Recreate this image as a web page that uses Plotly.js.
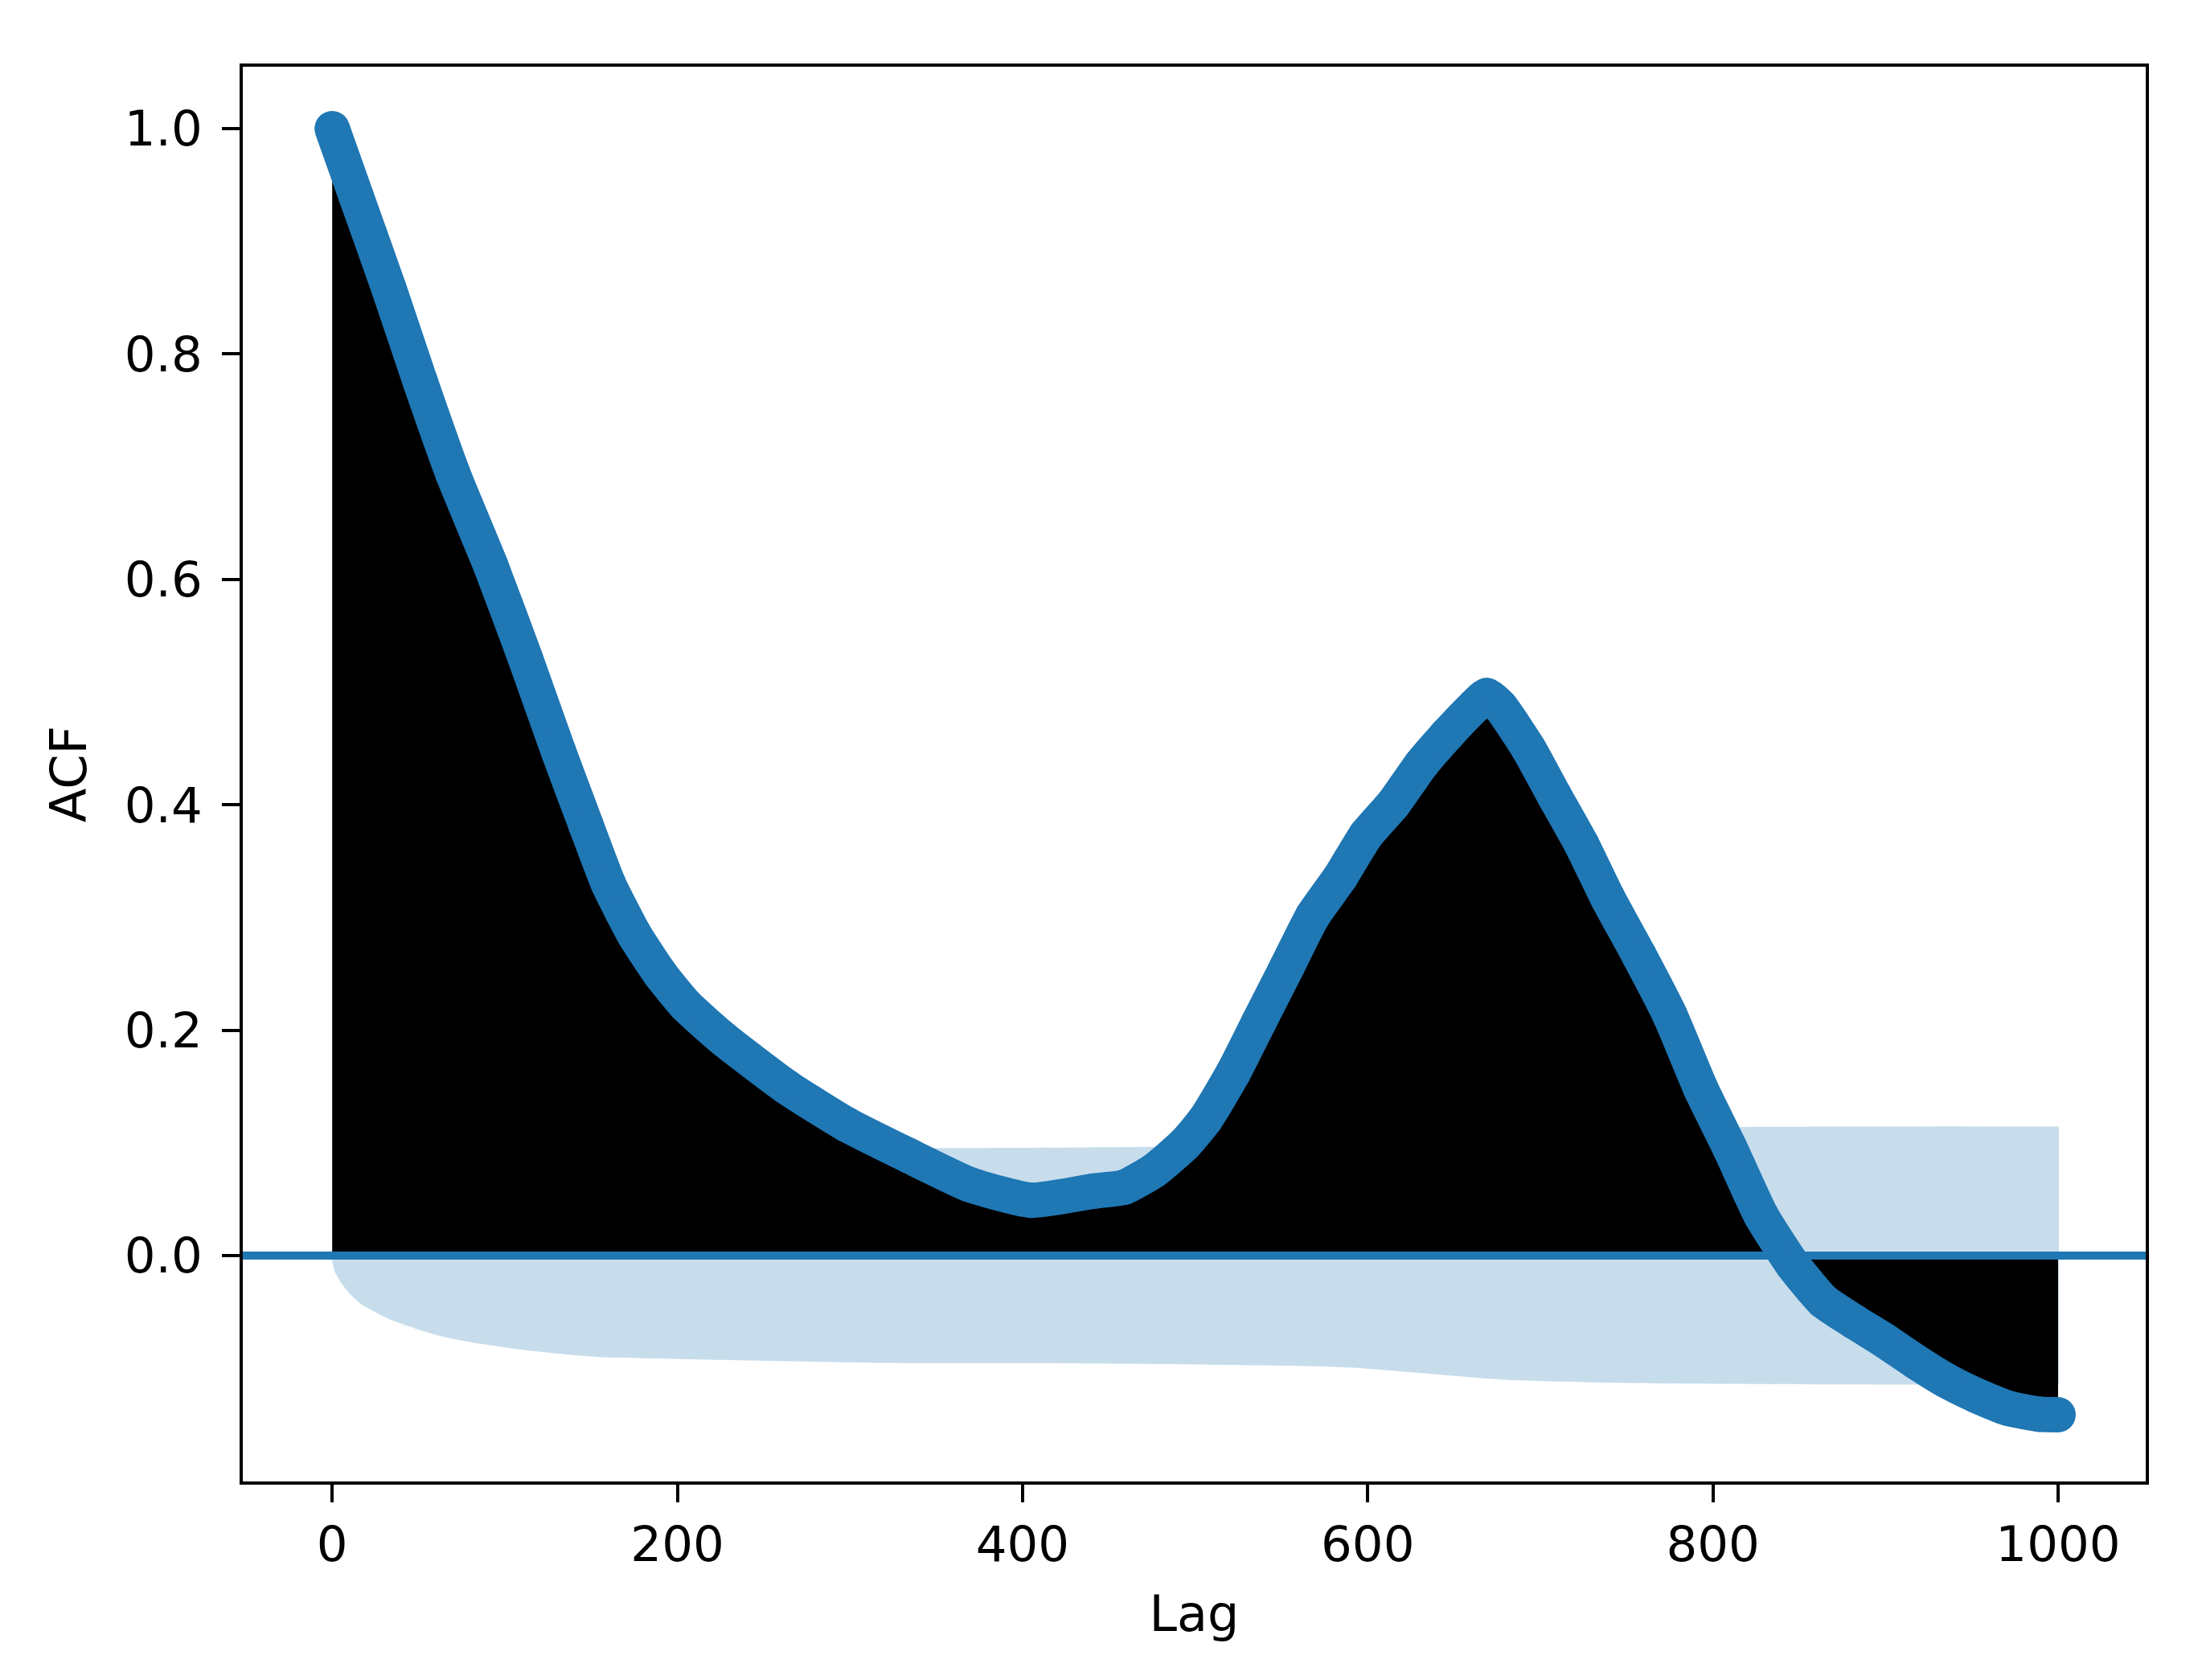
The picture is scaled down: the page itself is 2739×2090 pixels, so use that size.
<!DOCTYPE html>
<html><head><meta charset="utf-8">
<script src="https://cdn.plot.ly/plotly-3.0.1.min.js"></script>
<style>html,body{margin:0;padding:0;background:#fff;}</style>
</head><body><div id="chart" style="width:2739px;height:2090px;"></div>
<script>
// ACF values (lag, autocorrelation)
const lags = [0,14,33,51,70,92,112,131,147,160,175,190,205,227,263,298,334,369,405,441,459,476,494,506,522,537,553,568,584,599,615,631,646,662,669,677,693,708,724,739,757,775,793,810,828,846,864,882,900,917,935,953,971,989,1000];
const acf = [1.0,0.9395,0.8575,0.7756,0.6936,0.6117,0.5297,0.4478,0.3822,0.33,0.285,0.25,0.222,0.1918,0.1499,0.1163,0.0887,0.0632,0.049,0.0571,0.0607,0.0752,0.0989,0.121,0.1619,0.2074,0.2555,0.301,0.3356,0.3731,0.4011,0.4358,0.4623,0.4878,0.497,0.4868,0.4504,0.4084,0.3647,0.3175,0.267,0.2136,0.1481,0.0949,0.0354,-0.0076,-0.0404,-0.0588,-0.076,-0.0937,-0.1108,-0.1244,-0.1355,-0.1408,-0.1413];

// Confidence band half-width
const bandLags = [-0.5,1,2,5,9.5,17,33,48,64,79,110,141,157,320,400,587,677,766,899,1000.5];
const bandHalf = [0,0.012,0.016,0.024,0.0326,0.0433,0.0564,0.0647,0.0719,0.0766,0.0837,0.0885,0.0902,0.0953,0.0955,0.0992,0.110,0.1135,0.1145,0.1145];

// Axis ticks
const xTicks = [0,200,400,600,800,1000];
const yTicks = [0.0,0.2,0.4,0.6,0.8,1.0];
const yTickText = ['0.0','0.2','0.4','0.6','0.8','1.0'];

const C0 = '#1f77b4';
const bandFill = 'rgba(31,119,180,0.25)';

const traces = [
  {x: bandLags, y: bandHalf.map(v => -v), mode: 'lines', line: {width: 0, color: bandFill, shape: 'spline', smoothing: 0.6}, hoverinfo: 'skip'},
  {x: bandLags, y: bandHalf, mode: 'lines', line: {width: 0, color: bandFill, shape: 'spline', smoothing: 0.6}, fill: 'tonexty', fillcolor: bandFill, hoverinfo: 'skip'},
  {x: lags, y: acf, mode: 'lines', line: {width: 0, color: '#000', shape: 'spline', smoothing: 0.5}, fill: 'tozeroy', fillcolor: '#000000', hoverinfo: 'skip'},
  {x: lags, y: acf, mode: 'lines+markers', line: {width: 44, color: C0, shape: 'spline', smoothing: 0.5}, marker: {size: 44, color: C0, line: {width: 0}}}
];

const axisCommon = {
  showline: true, linewidth: 4, linecolor: '#000', mirror: true,
  ticks: 'outside', ticklen: 22, tickwidth: 4, tickcolor: '#000',
  showgrid: false, zeroline: false,
  tickfont: {family: 'DejaVu Sans', size: 61, color: '#000'}
};

const layout = {
  width: 2739, height: 2090,
  margin: {l: 302, r: 70, t: 83, b: 247, pad: 0},
  paper_bgcolor: '#fff', plot_bgcolor: '#fff',
  showlegend: false,
  font: {family: 'DejaVu Sans', size: 61, color: '#000'},
  xaxis: Object.assign({}, axisCommon, {
    range: [-51.8, 1050.8], tickvals: xTicks, ticktext: xTicks.map(String),
    title: {text: 'Lag', standoff: 31, font: {family: 'DejaVu Sans', size: 62, color: '#000'}}
  }),
  yaxis: Object.assign({}, axisCommon, {
    range: [-0.2005, 1.055], tickvals: yTicks, ticktext: yTickText,
    ticklabelstandoff: 12,
    title: {text: 'ACF', standoff: 28, font: {family: 'DejaVu Sans', size: 62, color: '#000'}}
  }),
  shapes: [
    {type: 'line', xref: 'paper', x0: 0, x1: 1, yref: 'y', y0: 0, y1: 0, line: {color: C0, width: 10}, layer: 'above'}
  ]
};

Plotly.newPlot('chart', traces, layout, {displayModeBar: false, staticPlot: true});
</script>
</body></html>
